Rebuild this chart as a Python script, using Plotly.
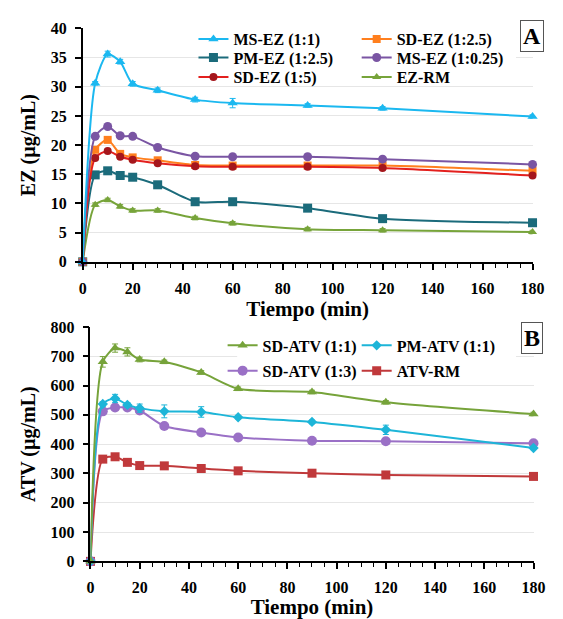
import plotly.graph_objects as go

W, H = 563, 619

# ---------------- data ----------------
tiempo = [0, 5, 10, 15, 20, 30, 45, 60, 90, 120, 180]

ms_ez_11 = [0, 30.6, 35.6, 34.3, 30.5, 29.4, 27.8, 27.2, 26.8, 26.3, 24.9]
sd_ez_125 = [0, 19.2, 20.9, 18.5, 17.9, 17.4, 16.6, 16.5, 16.5, 16.5, 15.6]
pm_ez_125 = [0, 14.9, 15.6, 14.8, 14.5, 13.2, 10.3, 10.3, 9.2, 7.4, 6.7]
ms_ez_1025 = [0, 21.5, 23.2, 21.6, 21.5, 19.6, 18.1, 18.0, 18.0, 17.6, 16.7]
sd_ez_15 = [0, 17.8, 19.0, 18.0, 17.5, 16.9, 16.4, 16.3, 16.3, 16.1, 14.8]
ez_rm = [0, 9.8, 10.6, 9.5, 8.8, 8.8, 7.5, 6.6, 5.6, 5.4, 5.1]

ms_ez_11_err = [0, 0.3, 0.5, 0.4, 0.4, 0.4, 0.4, 0.8, 0.3, 0.3, 0.3]
small_err = [0, 0.3, 0.3, 0.3, 0.3, 0.3, 0.3, 0.3, 0.3, 0.3, 0.3]

sd_atv_11 = [0, 681, 728, 715, 689, 681, 645, 589, 578, 543, 503]
pm_atv_11 = [0, 537, 556, 534, 523, 512, 510, 492, 476, 449, 387]
sd_atv_13 = [0, 512, 525, 525, 515, 462, 440, 423, 412, 410, 403]
atv_rm = [0, 349, 357, 338, 327, 326, 317, 309, 301, 295, 290]

sd_atv_11_err = [0, 18, 14, 14, 8, 6, 6, 6, 6, 6, 6]
pm_atv_11_err = [0, 8, 14, 8, 14, 22, 18, 6, 6, 16, 6]
atv_small_err = [0, 5, 5, 5, 5, 5, 5, 5, 5, 5, 5]

xticks = [0, 20, 40, 60, 80, 100, 120, 140, 160, 180]
ticks_a = [0, 5, 10, 15, 20, 25, 30, 35, 40]
grid_a = [5, 10, 15, 20, 25, 30, 35]
ticks_b = [0, 100, 200, 300, 400, 500, 600, 700, 800]
grid_b = [100, 200, 300, 400, 500, 600, 700]

FONT = "Liberation Serif, Times New Roman, serif"

def px_x(p):
    return p / W

def px_y(p):
    return 1 - p / H

fig = go.Figure()

def add(x, y, name, color, symbol, size, xa, ya, legend, err=None, mcolor=None):
    fig.add_trace(go.Scatter(
        x=x, y=y, name=name, mode="lines+markers",
        line=dict(color=color, width=2, shape="spline", smoothing=0.7),
        marker=dict(symbol=symbol, size=size, color=mcolor or color),
        error_y=dict(type="data", array=err, visible=err is not None,
                     color=color, thickness=1, width=3),
        xaxis=xa, yaxis=ya, legend=legend, cliponaxis=False,
    ))

# Panel A
add(tiempo, ez_rm, "EZ-RM", "#77A43A", "triangle-up", 8, "x", "y", "legend6", small_err)
add(tiempo, pm_ez_125, "PM-EZ (1:2.5)", "#1B6B7B", "square", 9, "x", "y", "legend3", small_err)
add(tiempo, sd_ez_125, "SD-EZ (1:2.5)", "#FF7F1E", "square", 8, "x", "y", "legend2", small_err)
add(tiempo, sd_ez_15, "SD-EZ (1:5)", "#E3201E", "circle", 8, "x", "y", "legend5", small_err, mcolor="#A5161C")
add(tiempo, ms_ez_1025, "MS-EZ (1:0.25)", "#7A55A3", "circle", 9, "x", "y", "legend4", small_err)
add(tiempo, ms_ez_11, "MS-EZ (1:1)", "#1BB8F0", "triangle-up", 9, "x", "y", "legend", ms_ez_11_err)

# Panel B
add(tiempo, atv_rm, "ATV-RM", "#C0393B", "square", 9, "x2", "y2", "legend10", atv_small_err)
add(tiempo, sd_atv_13, "SD-ATV (1:3)", "#9A70C6", "circle", 10, "x2", "y2", "legend9", atv_small_err)
add(tiempo, pm_atv_11, "PM-ATV (1:1)", "#1DB5D8", "diamond", 8, "x2", "y2", "legend8", pm_atv_11_err)
add(tiempo, sd_atv_11, "SD-ATV (1:1)", "#76A33A", "triangle-up", 9, "x2", "y2", "legend7", sd_atv_11_err)

axis_common = dict(
    showline=True, linecolor="black", linewidth=1.5,
    ticks="outside", ticklen=6, tickwidth=1.5, tickcolor="black",
    tickfont=dict(family=FONT, size=16, color="black", weight="bold"),
    zeroline=False, ticklabelstandoff=5,
)

title_font = dict(family=FONT, size=20, color="black", weight="bold")

xcommon = dict(axis_common, range=[0, 180], tickvals=xticks, showgrid=False,
               minor=dict(ticks="outside", ticklen=4, tickwidth=1, tickcolor="black", dtick=5, showgrid=False),
               title=dict(text="Tiempo (min)", font=dict(title_font, size=21), standoff=0))

fig.update_layout(
    width=W, height=H,
    margin=dict(l=0, r=0, t=0, b=0),
    paper_bgcolor="white", plot_bgcolor="white",
    font=dict(family=FONT, color="black"),
    showlegend=True,
    xaxis=dict(xcommon, domain=[px_x(81), px_x(544)], anchor="y"),
    yaxis=dict(axis_common, range=[0, 40], tickvals=ticks_a, domain=[px_y(261), px_y(21)],
               showgrid=False, anchor="x",
               minor=dict(tickvals=grid_a, showgrid=True, gridcolor="#E6E6E6", gridwidth=1, ticks=""),
               title=dict(text="EZ (µg/mL)", font=title_font, standoff=10)),
    xaxis2=dict(xcommon, domain=[px_x(89), px_x(545)], anchor="y2"),
    yaxis2=dict(axis_common, range=[0, 800], tickvals=ticks_b, domain=[px_y(569), px_y(328)],
                showgrid=False, anchor="x2",
                minor=dict(tickvals=grid_b, showgrid=True, gridcolor="#E6E6E6", gridwidth=1, ticks=""),
                title=dict(text="ATV (µg/mL)", font=title_font, standoff=10)),
)

# white background boxes behind the legends
for x0, y0, x1, y1 in [(200, 22, 527, 79), (240, 336, 527, 385)]:
    fig.add_shape(type="rect", xref="paper", yref="paper",
                  x0=px_x(x0), x1=px_x(x1), y0=px_y(y1), y1=px_y(y0),
                  fillcolor="white", line=dict(width=0), layer="above")

leg_font = dict(family=FONT, size=16, color="black", weight="bold")
leg_pos = {
    "legend": (195, 32), "legend2": (363, 32),
    "legend3": (195, 51), "legend4": (363, 51),
    "legend5": (195, 71), "legend6": (363, 71),
    "legend7": (225, 347), "legend8": (363, 347),
    "legend9": (225, 373), "legend10": (363, 373),
}
for key, (lx, ly) in leg_pos.items():
    fig.update_layout({key: dict(x=px_x(lx), y=px_y(ly), xanchor="left", yanchor="middle",
                                 xref="paper", yref="paper",
                                 bgcolor="rgba(0,0,0,0)", borderwidth=0, font=leg_font,
                                 itemwidth=30, tracegroupgap=0)})

for txt, x0, y0 in [("A", 543, 29), ("B", 543, 339)]:
    fig.add_annotation(text=txt, x=px_x(x0), y=px_y(y0), xref="paper", yref="paper",
                       showarrow=False, font=dict(family=FONT, size=24, color="black", weight="bold"),
                       bordercolor="#555555", borderwidth=1, bgcolor="white", borderpad=2,
                       xanchor="center", yanchor="middle")

fig.write_html("out.html", config={"displayModeBar": False},
               post_script="document.body.style.margin='0';document.body.style.overflow='hidden';")
